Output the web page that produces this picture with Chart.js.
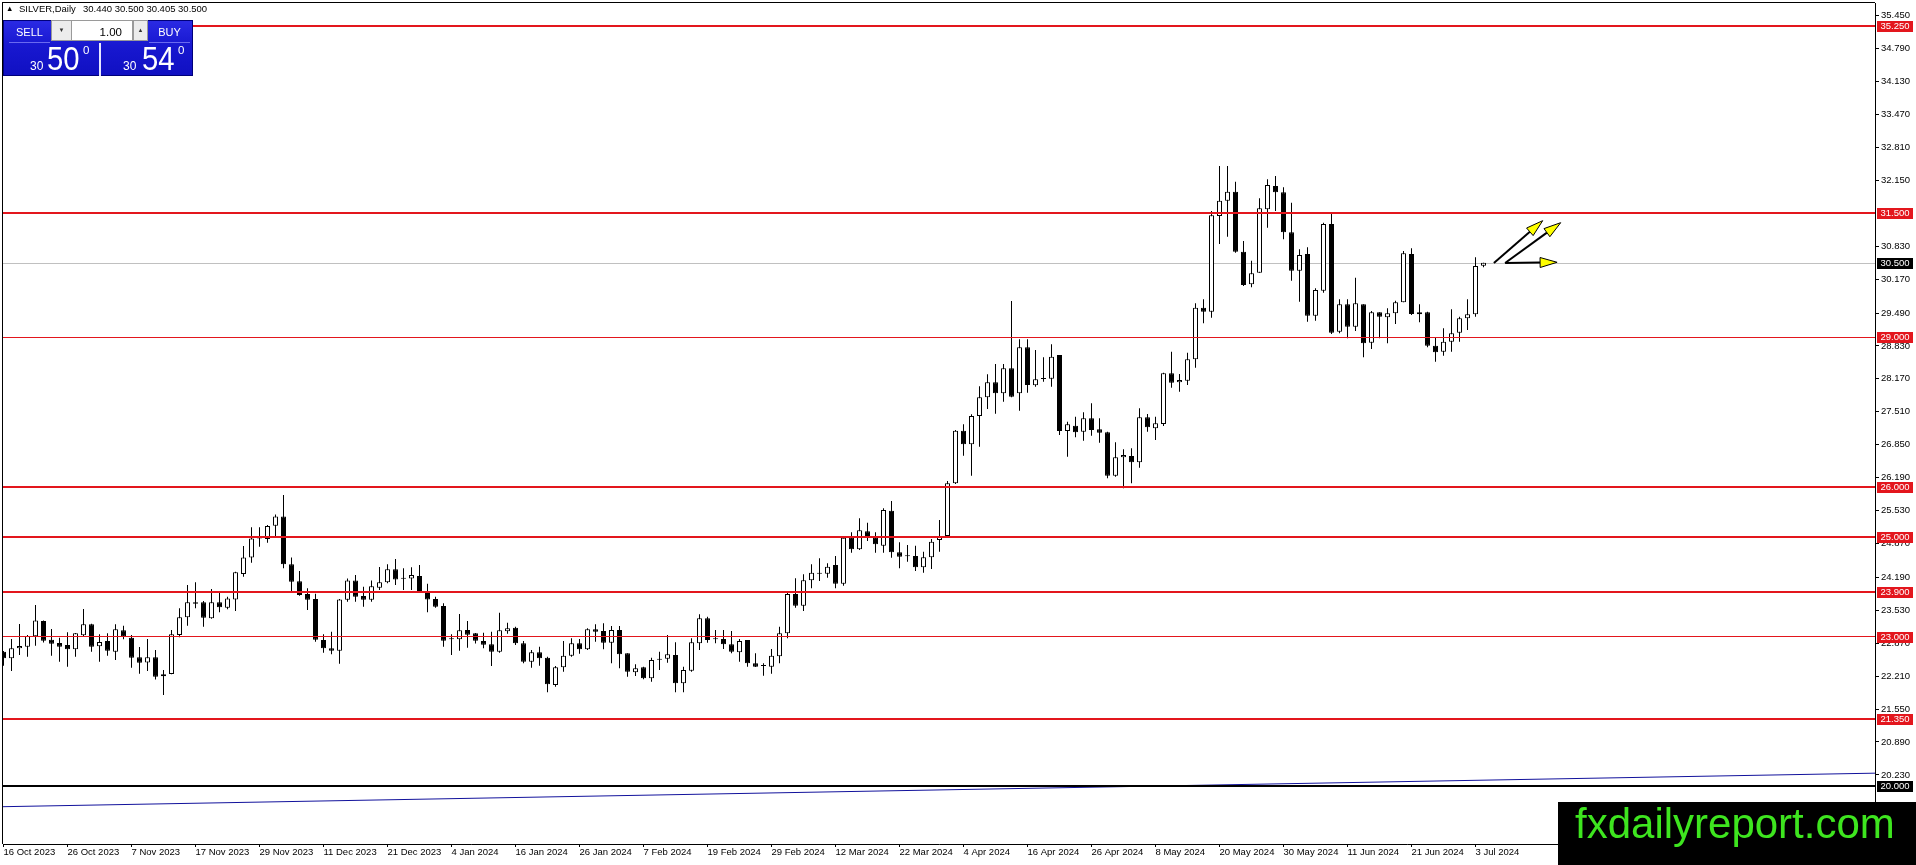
<!DOCTYPE html>
<html><head><meta charset="utf-8">
<script src="https://cdn.jsdelivr.net/npm/chart.js@4.4.1/dist/chart.umd.min.js"></script>
<style>
html,body{margin:0;padding:0;background:#fff;}
#wrap{position:relative;width:1916px;height:865px;overflow:hidden;background:#fff;}
canvas{position:absolute;left:0;top:0;}
.abs{position:absolute;white-space:pre;line-height:1;font-family:'Liberation Sans',Arial,sans-serif;}
.t{font-size:9.5px;color:#000;}
.panel{left:3px;top:20px;width:190px;height:56px;background:linear-gradient(to bottom,#2a2ae4 0%,#1818d0 45%,#1010c2 100%);border:1px solid #00007a;box-sizing:border-box;}
.btn{color:#fff;font-size:11px;text-align:center;line-height:25px;height:23px;top:20px;border-bottom:1px solid #6a6af0;box-sizing:border-box;}
.spin{background:#ececec;border:1px solid #9a9a9a;box-sizing:border-box;color:#333;font-size:6px;text-align:center;line-height:19px;height:21px;top:20px;}
.inp{background:#fff;border:1px solid #9a9a9a;box-sizing:border-box;color:#000;font-size:11.5px;text-align:right;line-height:22px;height:21px;top:20px;padding-right:10px;}
.w{color:#fff;}
</style></head><body>
<div id="wrap">
<canvas id="c" width="1916" height="865"></canvas>

<div class="abs" style="left:6px;top:5px;font-size:7.5px;color:#000">▲</div>
<div class="abs t" style="left:19px;top:4px">SILVER,Daily</div>
<div class="abs t" style="left:83px;top:4px">30.440 30.500 30.405 30.500</div>

<div class="abs panel"></div>
<div class="abs btn" style="left:9px;width:41px;">SELL</div>
<div class="abs spin" style="left:51px;width:21px;">▼</div>
<div class="abs inp" style="left:71px;width:62px;">1.00</div>
<div class="abs spin" style="left:133px;width:15px;">▲</div>
<div class="abs btn" style="left:149px;width:41px;">BUY</div>
<div class="abs" style="left:99px;top:43px;width:2px;height:33px;background:#e8e8ff"></div>

<div class="abs w" style="left:30px;top:60px;font-size:12px">30</div>
<div class="abs w" style="left:47px;top:42.5px;font-size:32.5px;transform:scaleX(0.9);transform-origin:0 0">50</div>
<div class="abs w" style="left:83px;top:45px;font-size:11.5px">0</div>
<div class="abs w" style="left:123px;top:60px;font-size:12px">30</div>
<div class="abs w" style="left:142px;top:42.5px;font-size:32.5px;transform:scaleX(0.9);transform-origin:0 0">54</div>
<div class="abs w" style="left:178px;top:45px;font-size:11.5px">0</div>

<div class="abs" style="left:1558px;top:802px;width:358px;height:63px;background:#000"></div>
<div class="abs" style="left:1575px;top:803px;font-size:42px;color:#3ee51f">fxdailyreport.com</div>
</div>

<script>
// ---- candle data (SILVER, Daily) ----
const openP = [22.700,22.567,22.767,22.800,23.008,23.315,22.941,22.874,22.834,22.747,
23.028,23.248,22.807,22.914,22.700,23.128,22.981,22.587,22.486,22.587,
22.206,22.252,23.034,23.389,23.689,23.689,23.369,23.689,23.582,23.749,
24.257,24.591,24.972,24.959,25.226,25.413,24.451,24.110,23.856,23.756,
22.934,22.767,22.720,23.743,24.130,23.816,23.743,23.983,24.090,24.351,
24.164,24.170,24.217,23.903,23.756,23.616,22.948,22.948,23.135,23.068,
22.914,22.847,22.700,23.108,23.182,22.868,22.500,22.687,22.580,22.032,
22.387,22.621,22.868,22.748,23.149,23.115,22.881,23.135,22.667,22.286,
22.387,22.166,22.541,22.561,22.634,22.066,22.320,22.868,23.369,22.948,
22.955,22.848,22.687,22.935,22.467,22.413,22.400,22.607,23.068,23.857,
23.623,24.131,24.265,24.265,24.438,24.064,24.986,24.752,25.113,24.986,
24.826,25.528,24.692,24.612,24.619,24.392,24.592,24.940,25.020,26.076,
27.132,26.858,27.426,27.800,28.100,27.880,28.381,27.880,28.802,28.040,
28.167,28.174,28.648,27.124,27.231,27.111,27.378,27.158,27.098,26.229,
26.596,26.623,26.496,27.398,27.178,27.265,28.281,28.100,28.134,28.561,
29.597,29.517,31.435,31.742,31.923,30.720,30.065,30.299,31.568,32.036,
31.909,31.107,30.339,30.673,29.437,29.938,31.274,29.116,29.664,29.216,
29.664,28.895,29.504,29.403,29.483,29.704,30.673,29.463,29.504,28.835,
28.715,28.915,29.096,29.383,29.463,30.440];

const highP = [22.714,22.954,23.255,23.034,23.636,23.328,23.155,22.981,23.088,23.074,
23.556,23.262,23.048,23.068,23.248,23.222,23.034,22.794,22.954,22.734,
22.333,23.135,23.569,24.037,24.090,23.716,23.957,23.890,23.803,24.304,
24.819,25.193,25.193,25.240,25.453,25.841,24.591,24.317,23.970,23.863,
23.048,23.101,23.756,24.170,24.237,24.003,24.130,24.398,24.451,24.558,
24.371,24.391,24.438,24.063,23.803,23.669,23.048,23.455,23.315,23.074,
23.081,23.101,23.482,23.282,23.202,22.915,22.734,22.801,22.601,22.413,
22.915,22.968,22.955,23.169,23.249,23.269,23.215,23.215,22.667,22.447,
22.400,22.580,22.701,23.035,22.888,22.400,22.968,23.449,23.403,23.135,
23.135,23.115,22.955,22.935,22.667,22.467,22.754,23.202,23.877,24.171,
24.251,24.452,24.572,24.472,24.619,25.006,25.093,25.374,25.287,25.093,
25.574,25.722,24.893,24.839,24.826,24.706,24.960,25.341,26.122,27.145,
27.259,27.459,28.020,28.261,28.468,28.468,29.731,28.962,28.962,28.748,
28.601,28.862,28.648,27.312,27.412,27.499,27.679,27.378,27.111,26.897,
26.757,26.777,27.579,27.465,27.412,28.294,28.715,28.267,28.695,29.684,
29.764,31.535,32.437,32.437,32.123,30.934,30.539,31.789,32.170,32.237,
32.010,31.702,30.767,30.807,29.985,31.301,31.488,29.764,29.764,30.198,
29.664,29.530,29.504,29.584,29.737,30.733,30.787,29.664,29.517,28.996,
29.183,29.564,29.417,29.764,30.606,30.500];

const lowP = [22.420,22.313,22.633,22.600,22.820,22.887,22.620,22.500,22.400,22.600,
23.008,22.700,22.500,22.620,22.533,22.948,22.379,22.259,22.313,22.145,
21.831,22.246,22.988,23.222,23.569,23.201,23.362,23.489,23.549,23.515,
24.204,24.485,24.805,24.885,25.019,24.371,23.916,23.823,23.536,22.901,
22.680,22.647,22.460,23.703,23.703,23.602,23.703,23.936,24.070,24.037,
23.936,23.936,23.903,23.489,23.582,22.800,22.633,22.720,22.780,22.867,
22.767,22.413,22.680,23.061,22.835,22.467,22.380,22.420,21.886,21.999,
22.300,22.601,22.661,22.734,22.901,22.748,22.467,22.367,22.200,22.213,
22.146,22.099,22.333,22.480,21.886,21.886,22.300,22.734,22.881,22.868,
22.754,22.667,22.500,22.400,22.393,22.220,22.260,22.467,22.968,23.583,
23.516,23.971,24.118,24.184,23.971,24.024,24.686,24.739,24.920,24.686,
24.686,24.585,24.372,24.505,24.318,24.285,24.358,24.706,25.006,26.062,
26.630,26.229,26.811,27.566,27.470,27.713,27.800,27.532,27.893,28.013,
28.114,28.013,27.044,26.610,26.997,26.931,27.031,26.891,26.176,26.209,
25.975,26.075,26.389,27.111,26.944,27.225,27.993,27.913,28.047,28.394,
29.283,29.397,30.873,31.020,30.700,30.031,30.005,30.299,31.201,31.535,
30.967,30.138,29.717,29.316,29.336,29.898,29.069,29.083,28.982,29.129,
28.601,28.768,28.982,28.882,29.270,29.704,29.450,29.303,28.802,28.514,
28.635,28.715,28.915,29.149,29.417,30.405];

const closeP = [22.567,22.767,22.814,23.014,23.328,22.921,22.861,22.800,22.747,23.068,
23.248,22.800,22.894,22.720,23.148,23.008,22.580,22.480,22.587,22.199,
22.246,23.048,23.389,23.689,23.662,23.382,23.689,23.589,23.769,24.291,
24.591,24.972,24.992,25.220,25.413,24.451,24.104,23.836,23.743,22.941,
22.767,22.720,23.749,24.130,23.803,23.743,24.010,24.090,24.351,24.150,
24.177,24.237,23.916,23.749,23.602,22.921,22.954,23.128,23.041,22.921,
22.840,22.700,23.128,23.168,22.868,22.500,22.687,22.567,22.046,22.387,
22.621,22.868,22.748,23.149,23.102,22.881,23.135,22.647,22.300,22.367,
22.166,22.534,22.554,22.647,22.066,22.333,22.888,23.369,22.935,22.960,
22.848,22.701,22.915,22.467,22.400,22.427,22.621,23.068,23.857,23.623,
24.131,24.285,24.278,24.405,24.064,24.986,24.752,25.133,25.020,24.853,
25.541,24.692,24.605,24.625,24.392,24.592,24.906,25.020,26.076,27.132,
26.858,27.426,27.800,28.101,27.880,28.381,27.813,28.802,28.047,28.160,
28.180,28.615,27.124,27.258,27.098,27.378,27.145,27.091,26.229,26.596,
26.643,26.496,27.398,27.198,27.278,28.281,28.093,28.147,28.561,29.597,
29.517,31.448,31.742,31.923,30.720,30.052,30.285,31.589,32.056,31.909,
31.107,30.339,30.653,29.437,29.951,31.274,29.096,29.664,29.216,29.684,
28.882,29.504,29.417,29.483,29.704,30.686,29.470,29.504,28.835,28.702,
28.915,29.083,29.383,29.463,30.432,30.500];

// ---- axis ticks ----
const xTickIndex = [0,8,16,24,32,40,48,56,64,72,80,88,96,104,112,120,128,136,144,152,160,168,176,184];
const xTickLabels = ['16 Oct 2023','26 Oct 2023','7 Nov 2023','17 Nov 2023','29 Nov 2023','11 Dec 2023','21 Dec 2023','4 Jan 2024','16 Jan 2024','26 Jan 2024','7 Feb 2024','19 Feb 2024','29 Feb 2024','12 Mar 2024','22 Mar 2024','4 Apr 2024','16 Apr 2024','26 Apr 2024','8 May 2024','20 May 2024','30 May 2024','11 Jun 2024','21 Jun 2024','3 Jul 2024'];
const yTickValues = [35.450,34.790,34.130,33.470,32.810,32.150,30.830,30.170,29.490,28.830,28.170,27.510,26.850,26.190,25.530,24.870,24.190,23.530,22.870,22.210,21.550,20.890,20.230];
const xRange = [-0.0625, 233.9375];
const yRange = [18.845, 35.705];

// ---- drawn objects ----
const redLevels = [35.25, 31.50, 29.00, 26.00, 25.00, 23.90, 23.00, 21.35];
const redWidths = [2, 2, 1, 2, 2, 2, 1, 2];
const blackLevel = 20.00;
const bidPrice = 30.50;
const trendPts = [{x:-0.0625, y:19.593}, {x:233.9375, y:20.265}];
const arrowFrom = [[186.3, 30.493], [187.7, 30.493], [187.7, 30.493]];
const arrowTo   = [[192.4, 31.341], [194.65, 31.301], [194.2, 30.507]];

const FONT = "'Liberation Sans', Arial, sans-serif";
const RED = '#e3161d';

const bodies = closeP.map((c,i)=>({x:i, y:[Math.min(openP[i],c), Math.max(openP[i],c)]}));
const wicks = closeP.map((c,i)=>({x:i, y:[lowP[i], highP[i]]}));
const bodyColors = closeP.map((c,i)=> c >= openP[i] ? '#ffffff' : '#000000');

function drawArrow(ctx, x0, y0, x1, y1){
  const ang = Math.atan2(y1-y0, x1-x0);
  const L = 17, W = 5;
  const bx = x1 - L*Math.cos(ang), by = y1 - L*Math.sin(ang);
  ctx.strokeStyle = '#000'; ctx.lineWidth = 2;
  ctx.beginPath(); ctx.moveTo(x0,y0); ctx.lineTo(bx,by); ctx.stroke();
  ctx.beginPath();
  ctx.moveTo(x1,y1);
  ctx.lineTo(bx + W*Math.sin(ang), by - W*Math.cos(ang));
  ctx.lineTo(bx - W*Math.sin(ang), by + W*Math.cos(ang));
  ctx.closePath();
  ctx.fillStyle = '#ffff00'; ctx.fill();
  ctx.lineWidth = 1; ctx.stroke();
}

const overlay = {
  id: 'overlay',
  beforeDatasetsDraw(chart){
    const {ctx, chartArea:a, scales:{y}} = chart;
    ctx.save();
    const py = Math.round(y.getPixelForValue(bidPrice));
    ctx.fillStyle = '#c0c0c0';
    ctx.fillRect(a.left, py, a.right - a.left, 1);
    ctx.restore();
  },
  afterDatasetsDraw(chart){
    const {ctx, chartArea:a, scales:{x,y}} = chart;
    ctx.save();
    redLevels.forEach((p,i)=>{
      const w = redWidths[i];
      const py = y.getPixelForValue(p);
      ctx.fillStyle = RED;
      ctx.fillRect(a.left, Math.round(py - w/2), a.right - a.left, w);
    });
    const pb = y.getPixelForValue(blackLevel);
    ctx.fillStyle = '#000';
    ctx.fillRect(a.left, Math.round(pb - 1), a.right - a.left, 2);
    arrowFrom.forEach((f,i)=>{
      const t = arrowTo[i];
      drawArrow(ctx, x.getPixelForValue(f[0]), y.getPixelForValue(f[1]), x.getPixelForValue(t[0]), y.getPixelForValue(t[1]));
    });
    // frame (left & top)
    ctx.fillStyle = '#000';
    ctx.fillRect(a.left - 1, a.top - 1, 1, a.bottom - a.top + 1);
    ctx.fillRect(a.left - 1, a.top - 1, a.right - a.left + 1, 1);
    ctx.restore();
  },
  afterDraw(chart){
    const {ctx, chartArea:a, scales:{y}} = chart;
    ctx.save();
    ctx.font = '9.5px ' + FONT;
    ctx.textAlign = 'center';
    ctx.textBaseline = 'middle';
    const tag = (p, col) => {
      const py = Math.round(y.getPixelForValue(p));
      ctx.fillStyle = col;
      ctx.fillRect(a.right + 2, py - 5, 36, 11);
      ctx.fillStyle = '#fff';
      ctx.fillText(p.toFixed(3), a.right + 20, py + 0.5);
    };
    redLevels.forEach(p => tag(p, RED));
    tag(bidPrice, '#000');
    tag(blackLevel, '#000');
    ctx.restore();
  }
};

new Chart(document.getElementById('c').getContext('2d'), {
  type: 'bar',
  data: {
    datasets: [
      {type:'bar', label:'body', data: bodies, order: 1, grouped:false, barThickness:5, minBarLength:1,
       borderWidth:1, borderColor:'#000', borderSkipped:false, inflateAmount:0, backgroundColor: bodyColors},
      {type:'bar', label:'wick', data: wicks, order: 2, grouped:false, barThickness:1,
       borderWidth:0, inflateAmount:0, backgroundColor:'#000'},
      {type:'line', label:'trend', data: trendPts, order: 0, borderColor:'#12129c', borderWidth:1,
       pointRadius:0, fill:false, tension:0}
    ]
  },
  options: {
    responsive:false, animation:false, devicePixelRatio:1,
    layout:{padding:{left:3, top:3, right:0, bottom:0}},
    plugins:{legend:{display:false}, tooltip:{enabled:false}},
    scales:{
      x:{type:'linear', position:'bottom', min:xRange[0], max:xRange[1], offset:false,
        grid:{display:true, drawOnChartArea:false, drawTicks:true, tickLength:3, color:'#000', offset:false},
        border:{display:true, color:'#000', width:1},
        ticks:{autoSkip:false, maxRotation:0, minRotation:0, align:'start', padding:0, color:'#000',
          font:{family:FONT, size:9.5}, callback:(v,i)=> xTickLabels[i]},
        afterBuildTicks: s => { s.ticks = xTickIndex.map(v=>({value:v})); },
        afterFit: s => { s.height = 21; s.paddingLeft = 0; s.paddingRight = 0; s.paddingTop = 0; s.paddingBottom = 0; }
      },
      y:{type:'linear', position:'right', min:yRange[0], max:yRange[1],
        grid:{display:true, drawOnChartArea:false, drawTicks:true, tickLength:4, color:'#000'},
        border:{display:true, color:'#000', width:1},
        ticks:{autoSkip:false, padding:2, color:'#000', font:{family:FONT, size:9.5},
          callback:(v)=> Number(v).toFixed(3)},
        afterBuildTicks: s => { s.ticks = yTickValues.map(v=>({value:v})); },
        afterFit: s => { s.width = 41; s.paddingLeft = 0; s.paddingRight = 0; s.paddingTop = 0; s.paddingBottom = 0; }
      }
    }
  },
  plugins:[overlay]
});
</script>
</body></html>
